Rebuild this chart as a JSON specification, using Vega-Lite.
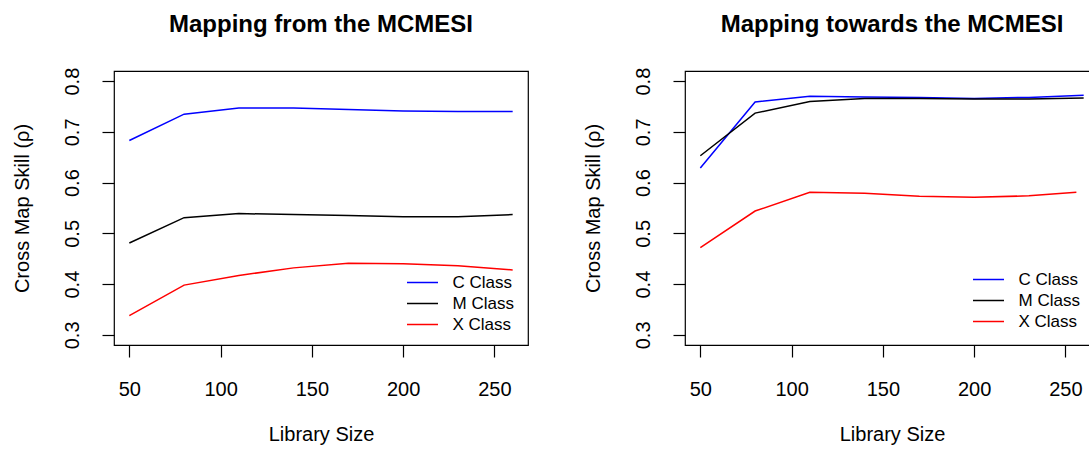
{
  "$schema": "https://vega.github.io/schema/vega-lite/v6.json",
  "background": "white",
  "padding": {"left": 11, "top": 12, "right": 0, "bottom": 0},
  "bounds": "flush",
  "spacing": 157,
  "config": {
    "font": "Liberation Sans",
    "view": {"stroke": "black", "strokeWidth": 1.2},
    "axis": {
      "domain": false,
      "grid": false,
      "ticks": true,
      "tickColor": "black",
      "tickWidth": 1.2,
      "tickSize": 12,
      "labelFont": "Liberation Sans",
      "labelFontSize": 20,
      "labelColor": "black",
      "titleFont": "Liberation Sans",
      "titleFontSize": 20,
      "titleFontWeight": "normal",
      "titleColor": "black"
    },
    "axisX": {
      "labelBaseline": "alphabetic",
      "labelPadding": 38,
      "titleX": 207,
      "titleY": 95,
      "titleAlign": "center",
      "titleBaseline": "alphabetic"
    },
    "axisY": {
      "labelAngle": 270,
      "labelAlign": "center",
      "labelBaseline": "alphabetic",
      "labelPadding": 23.5,
      "titleAngle": 270,
      "titleX": -86,
      "titleY": 137,
      "titleAlign": "center",
      "titleBaseline": "alphabetic"
    },
    "title": {
      "font": "Liberation Sans",
      "fontSize": 24,
      "fontWeight": "bold",
      "color": "black",
      "baseline": "alphabetic",
      "anchor": "middle",
      "frame": "group",
      "offset": 30
    },
    "legend": {
      "orient": "none",
      "title": null,
      "padding": 0,
      "symbolType": "M-4,0H4",
      "symbolSize": 60,
      "symbolStrokeWidth": 1.5,
      "labelFont": "Liberation Sans",
      "labelFontSize": 17,
      "labelColor": "black",
      "labelOffset": 21.5,
      "rowPadding": 3
    }
  },
  "datasets": {
    "from": [
      {"size": 50, "cls": "C Class", "rho": 0.683},
      {"size": 80, "cls": "C Class", "rho": 0.735},
      {"size": 110, "cls": "C Class", "rho": 0.747},
      {"size": 140, "cls": "C Class", "rho": 0.747},
      {"size": 170, "cls": "C Class", "rho": 0.744},
      {"size": 200, "cls": "C Class", "rho": 0.741},
      {"size": 230, "cls": "C Class", "rho": 0.740},
      {"size": 260, "cls": "C Class", "rho": 0.740},
      {"size": 50, "cls": "M Class", "rho": 0.481},
      {"size": 80, "cls": "M Class", "rho": 0.531},
      {"size": 110, "cls": "M Class", "rho": 0.539},
      {"size": 140, "cls": "M Class", "rho": 0.537},
      {"size": 170, "cls": "M Class", "rho": 0.535},
      {"size": 200, "cls": "M Class", "rho": 0.533},
      {"size": 230, "cls": "M Class", "rho": 0.533},
      {"size": 260, "cls": "M Class", "rho": 0.537},
      {"size": 50, "cls": "X Class", "rho": 0.338},
      {"size": 80, "cls": "X Class", "rho": 0.398},
      {"size": 110, "cls": "X Class", "rho": 0.417},
      {"size": 140, "cls": "X Class", "rho": 0.432},
      {"size": 170, "cls": "X Class", "rho": 0.441},
      {"size": 200, "cls": "X Class", "rho": 0.440},
      {"size": 230, "cls": "X Class", "rho": 0.436},
      {"size": 260, "cls": "X Class", "rho": 0.428}
    ],
    "towards": [
      {"size": 50, "cls": "C Class", "rho": 0.629},
      {"size": 80, "cls": "C Class", "rho": 0.759},
      {"size": 110, "cls": "C Class", "rho": 0.770},
      {"size": 140, "cls": "C Class", "rho": 0.769},
      {"size": 170, "cls": "C Class", "rho": 0.768},
      {"size": 200, "cls": "C Class", "rho": 0.766},
      {"size": 230, "cls": "C Class", "rho": 0.768},
      {"size": 260, "cls": "C Class", "rho": 0.772},
      {"size": 50, "cls": "M Class", "rho": 0.653},
      {"size": 80, "cls": "M Class", "rho": 0.737},
      {"size": 110, "cls": "M Class", "rho": 0.760},
      {"size": 140, "cls": "M Class", "rho": 0.766},
      {"size": 170, "cls": "M Class", "rho": 0.766},
      {"size": 200, "cls": "M Class", "rho": 0.765},
      {"size": 230, "cls": "M Class", "rho": 0.765},
      {"size": 260, "cls": "M Class", "rho": 0.767},
      {"size": 50, "cls": "X Class", "rho": 0.472},
      {"size": 80, "cls": "X Class", "rho": 0.544},
      {"size": 110, "cls": "X Class", "rho": 0.581},
      {"size": 140, "cls": "X Class", "rho": 0.579},
      {"size": 170, "cls": "X Class", "rho": 0.573},
      {"size": 200, "cls": "X Class", "rho": 0.571},
      {"size": 230, "cls": "X Class", "rho": 0.574},
      {"size": 256, "cls": "X Class", "rho": 0.581}
    ]
  },
  "hconcat": [
    {
      "title": "Mapping from the MCMESI",
      "data": {"name": "from"},
      "width": 414,
      "height": 274,
      "mark": {"type": "line", "strokeWidth": 1.5, "clip": true},
      "encoding": {
        "x": {"field": "size", "type": "quantitative", "title": "Library Size",
              "scale": {"domain": [41.6, 268.4], "nice": false, "zero": false},
              "axis": {"values": [50, 100, 150, 200, 250], "format": "d"}},
        "y": {"field": "rho", "type": "quantitative", "title": "Cross Map Skill (ρ)",
              "scale": {"domain": [0.28, 0.82], "nice": false, "zero": false},
              "axis": {"values": [0.3, 0.4, 0.5, 0.6, 0.7, 0.8], "format": ".1f"}},
        "color": {"field": "cls", "type": "nominal",
                  "scale": {"domain": ["C Class", "M Class", "X Class"], "range": ["#0000ff", "#000000", "#ff0000"]},
                  "legend": {"legendX": 300, "legendY": 203}}
      }
    },
    {
      "title": "Mapping towards the MCMESI",
      "data": {"name": "towards"},
      "width": 414,
      "height": 274,
      "mark": {"type": "line", "strokeWidth": 1.5, "clip": true},
      "encoding": {
        "x": {"field": "size", "type": "quantitative", "title": "Library Size",
              "scale": {"domain": [41.6, 268.4], "nice": false, "zero": false},
              "axis": {"values": [50, 100, 150, 200, 250], "format": "d"}},
        "y": {"field": "rho", "type": "quantitative", "title": "Cross Map Skill (ρ)",
              "scale": {"domain": [0.28, 0.82], "nice": false, "zero": false},
              "axis": {"values": [0.3, 0.4, 0.5, 0.6, 0.7, 0.8], "format": ".1f"}},
        "color": {"field": "cls", "type": "nominal",
                  "scale": {"domain": ["C Class", "M Class", "X Class"], "range": ["#0000ff", "#000000", "#ff0000"]},
                  "legend": {"legendX": 295, "legendY": 200}}
      }
    }
  ],
  "resolve": {"scale": {"color": "independent"}, "legend": {"color": "independent"}}
}
